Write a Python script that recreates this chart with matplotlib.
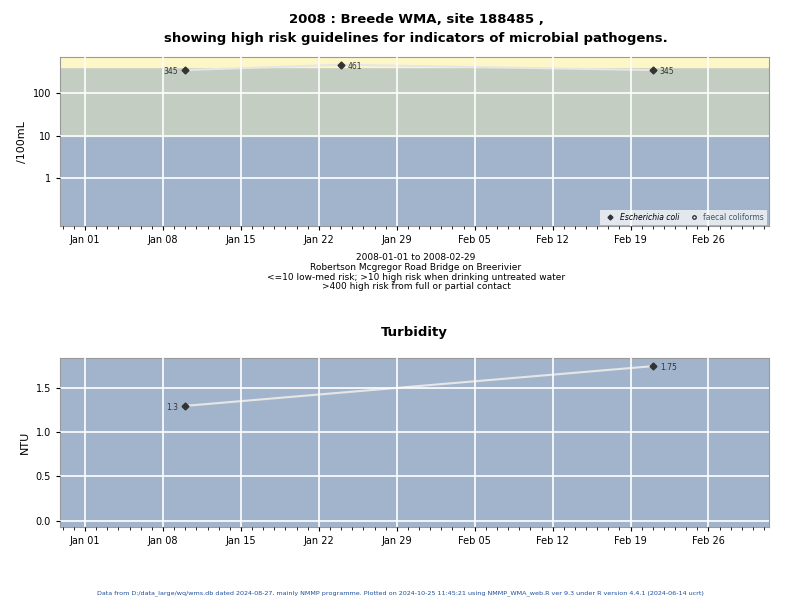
import matplotlib
matplotlib.use('Agg')
import matplotlib.pyplot as plt
import matplotlib.dates as mdates
from datetime import datetime, timedelta

# data
ecoli_dates = [datetime(2008, 1, 10), datetime(2008, 1, 24), datetime(2008, 2, 21)]
ecoli_vals = [345, 461, 345]
turb_dates = [datetime(2008, 1, 10), datetime(2008, 2, 21)]
turb_vals = [1.3, 1.75]
tick_dates = [datetime(2008, 1, 1) + timedelta(days=7 * i) for i in range(9)]

xmin = datetime(2007, 12, 29, 18)
xmax = datetime(2008, 3, 2, 10)
blue = '#a2b4cc'
green = '#c3cdc1'
yellow = '#fdf7c7'

fig = plt.figure(figsize=(8, 6), dpi=100)
plt.rcParams['font.family'] = 'DejaVu Sans'

def style(ax):
    ax.set_xlim(xmin, xmax)
    ax.set_xticks(tick_dates)
    ax.xaxis.set_major_formatter(mdates.DateFormatter('%b %d'))
    ax.xaxis.set_minor_locator(mdates.DayLocator())
    ax.tick_params(axis='both', labelsize=7, length=3)
    ax.tick_params(axis='x', which='minor', length=2)
    ax.grid(True, which='major', color='white', linewidth=1.2)
    ax.set_axisbelow(False)
    for s in ax.spines.values():
        s.set_color('#999999')

# top panel
ax1 = fig.add_axes([0.075, 0.623, 0.886, 0.282])
ax1.set_yscale('log')
ax1.set_ylim(0.074, 700)
ax1.axhspan(0.074, 10, color=blue, zorder=0)
ax1.axhspan(10, 400, color=green, zorder=0)
ax1.axhspan(400, 700, color=yellow, zorder=0)
ax1.set_yticks([1, 10, 100])
ax1.set_yticklabels(['1', '10', '100'])
ax1.minorticks_off()
style(ax1)
ax1.plot(ecoli_dates, ecoli_vals, color='#e6e6e6', linewidth=1.5, zorder=2)
ax1.plot(ecoli_dates, ecoli_vals, 'D', color='#333333', markersize=3.5, zorder=3)
for d, v in zip(ecoli_dates, ecoli_vals):
    if d == ecoli_dates[0]:
        ax1.annotate(str(v), (d, v), xytext=(-5, -3), textcoords='offset points', ha='right', fontsize=5.5, color='#333333')
    else:
        ax1.annotate(str(v), (d, v), xytext=(5, -3), textcoords='offset points', ha='left', fontsize=5.5, color='#333333')
ax1.set_ylabel('/100mL', fontsize=8)
ax1.plot([], [], 'D', color='#333333', markersize=2.5, label='Escherichia coli')
ax1.plot([], [], 'o', mfc='white', mec='#333333', markersize=2.5, label='faecal coliforms')
leg = ax1.legend(loc='lower right', ncol=2, fontsize=5.5, frameon=True, fancybox=False,
                 handletextpad=0.3, columnspacing=0.8, borderaxespad=0.2, framealpha=0.7)
leg.get_frame().set_edgecolor('none')
leg.get_texts()[0].set_style('italic')
leg.get_texts()[1].set_color('#445566')

fig.text(0.52, 0.962, '2008 : Breede WMA, site 188485 ,', ha='center', fontsize=9.5, weight='bold')
fig.text(0.52, 0.93, 'showing high risk guidelines for indicators of microbial pathogens.', ha='center', fontsize=9.5, weight='bold')
fig.text(0.52, 0.578, '2008-01-01 to 2008-02-29\nRobertson Mcgregor Road Bridge on Breerivier\n<=10 low-med risk; >10 high risk when drinking untreated water\n>400 high risk from full or partial contact',
         ha='center', va='top', fontsize=6.5, linespacing=1.1)

# bottom panel
ax2 = fig.add_axes([0.075, 0.122, 0.886, 0.281])
ax2.set_facecolor(blue)
ax2.set_ylim(-0.07, 1.84)
ax2.set_yticks([0.0, 0.5, 1.0, 1.5])
style(ax2)
ax2.plot(turb_dates, turb_vals, color='#e6e6e6', linewidth=1.5, zorder=2)
ax2.plot(turb_dates, turb_vals, 'D', color='#333333', markersize=3.5, zorder=3)
ax2.annotate('1.3', (turb_dates[0], turb_vals[0]), xytext=(-5, -3), textcoords='offset points', ha='right', fontsize=5.5, color='#333333')
ax2.annotate('1.75', (turb_dates[1], turb_vals[1]), xytext=(5, -3), textcoords='offset points', ha='left', fontsize=5.5, color='#333333')
ax2.set_ylabel('NTU', fontsize=8)
ax2.set_title('Turbidity', fontsize=9.5, weight='bold', pad=16)

fig.text(0.5, 0.01, 'Data from D:/data_large/wq/wms.db dated 2024-08-27, mainly NMMP programme. Plotted on 2024-10-25 11:45:21 using NMMP_WMA_web.R ver 9.3 under R version 4.4.1 (2024-06-14 ucrt)',
         ha='center', fontsize=4.6, color='#1f4e9e')

fig.savefig('out.png', dpi=100)
